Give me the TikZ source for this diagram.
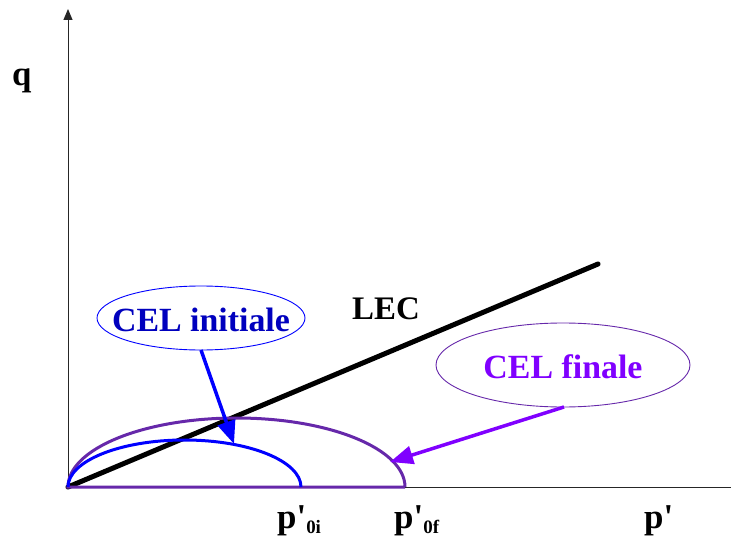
\documentclass[tikz,border=0pt]{standalone}
\usepackage{fontspec}
\setmainfont{Liberation Serif}
\newfontfamily\tnr{Liberation Serif}
\usetikzlibrary{arrows.meta,shapes.geometric}
\definecolor{celblue}{RGB}{0,0,255}
\definecolor{celtxtblue}{RGB}{0,0,190}
\definecolor{celpurple}{RGB}{102,40,170}
\definecolor{celviolet}{RGB}{128,0,255}
\begin{document}
\begin{tikzpicture}[x=1bp,y=-1bp,
  axis/.style={draw=black!85,line width=1bp},
  lbl/.style={inner sep=0pt,font=\tnr\bfseries\fontsize{35}{40}\selectfont},
  bubbletxt/.style={inner sep=0pt,font=\tnr\bfseries\fontsize{34}{40}\selectfont},
  bubbleline/.style={line width=0.9bp},
  pointer/.style={line width=3.5bp,-{Triangle[length=23bp,width=18bp]}}]
\useasboundingbox (0,0) rectangle (731,545);
% axes
\coordinate (O) at (68,487);
\coordinate (ytop) at (68,9);
\coordinate (xend) at (731,487);
\draw[axis] (O) -- (xend);
\draw[axis,-{Triangle[length=11bp,width=9bp]}] (O) -- (ytop);
% LEC line
\coordinate (lecend) at (598,264);
\draw[line width=5bp,line cap=round] (O) -- (lecend);
% CEL curves
\draw[celpurple,line width=3bp] (405,487) -- (O) arc[start angle=180,end angle=360,x radius=168.5,y radius=69];
\draw[celblue,line width=3bp] (O) arc[start angle=180,end angle=360,x radius=116.5,y radius=47];
% labels
\node[lbl,anchor=base west] (q) at (12,86) {q};
\node[lbl,anchor=base west,font=\tnr\bfseries\fontsize{33}{40}\selectfont] (lec) at (352,319) {LEC};
\node[lbl,anchor=base west] (p0i) at (277,528) {p'\raisebox{-5bp}{\fontsize{19}{20}\selectfont 0i}};
\node[lbl,anchor=base west] (p0f) at (394,528) {p'\raisebox{-5bp}{\fontsize{19}{20}\selectfont 0f}};
\node[lbl,anchor=base west] (pp) at (644,528) {p'};
% bubbles
\node[bubbletxt,text=celtxtblue] (ci) at (201,320) {CEL initiale};
\draw[bubbleline,celblue] (201,318) ellipse[x radius=104,y radius=32];
\coordinate (cibot) at (201,350);
\node[bubbletxt,text=celviolet] (cf) at (563,367) {CEL finale};
\draw[bubbleline,celpurple] (563,365) ellipse[x radius=127,y radius=42];
\coordinate (cfbot) at (564,407);
\coordinate (ciend) at (234,444);
\coordinate (cfend) at (390,462);
\draw[pointer,celblue] (cibot) -- (ciend);
\draw[pointer,celviolet] (cfbot) -- (cfend);
\end{tikzpicture}
\end{document}
